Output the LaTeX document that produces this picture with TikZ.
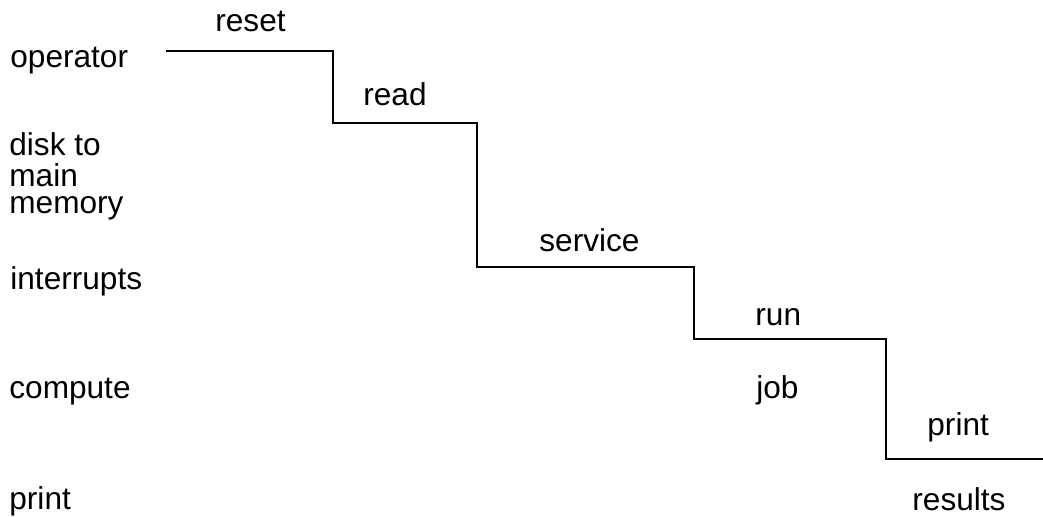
\documentclass[tikz,border=0pt]{standalone}
\usepackage{fontspec}
\setmainfont{Liberation Sans}
\begin{document}
\begin{tikzpicture}[x=0.5pt,y=-0.5pt,
  lbl/.style={inner sep=0pt,anchor=base west,font=\fontsize{15.8pt}{19pt}\selectfont},
  stair/.style={line width=1pt,line join=miter}]
\useasboundingbox (0,0) rectangle (1043,516);
% left column
\node[lbl] (operator) at (10,67) {operator};
\node[lbl] (disk) at (9,155) {disk to};
\node[lbl,text depth=0pt] (main) at (9,186.5) {main};
\node[lbl,text height=1.1ex] (memory) at (9,213.5) {memory};
\node[lbl] (interrupts) at (10,289) {interrupts};
\node[lbl] (compute) at (9,398) {compute};
\node[lbl] (printL) at (9,509) {print};
% step labels
\node[lbl] (reset) at (215,31.5) {reset};
\node[lbl] (read) at (363,105) {read};
\node[lbl] (service) at (539,251.5) {service};
\node[lbl] (run) at (755,325) {run};
\node[lbl] (job) at (756,398) {job};
\node[lbl] (printR) at (927,435) {print};
\node[lbl] (results) at (912,510) {results};
% staircase
\coordinate (s0) at (166,50.5);
\coordinate (s1) at (333,50.5);
\coordinate (s2) at (333,122.5);
\coordinate (s3) at (477,122.5);
\coordinate (s4) at (477,266.5);
\coordinate (s5) at (694,266.5);
\coordinate (s6) at (694,338.5);
\coordinate (s7) at (886,338.5);
\coordinate (s8) at (886,458.5);
\coordinate (s9) at (1043,458.5);
\draw[stair] (s0) -- (s1) -- (s2) -- (s3) -- (s4) -- (s5) -- (s6) -- (s7) -- (s8) -- (s9);
\end{tikzpicture}
\end{document}
